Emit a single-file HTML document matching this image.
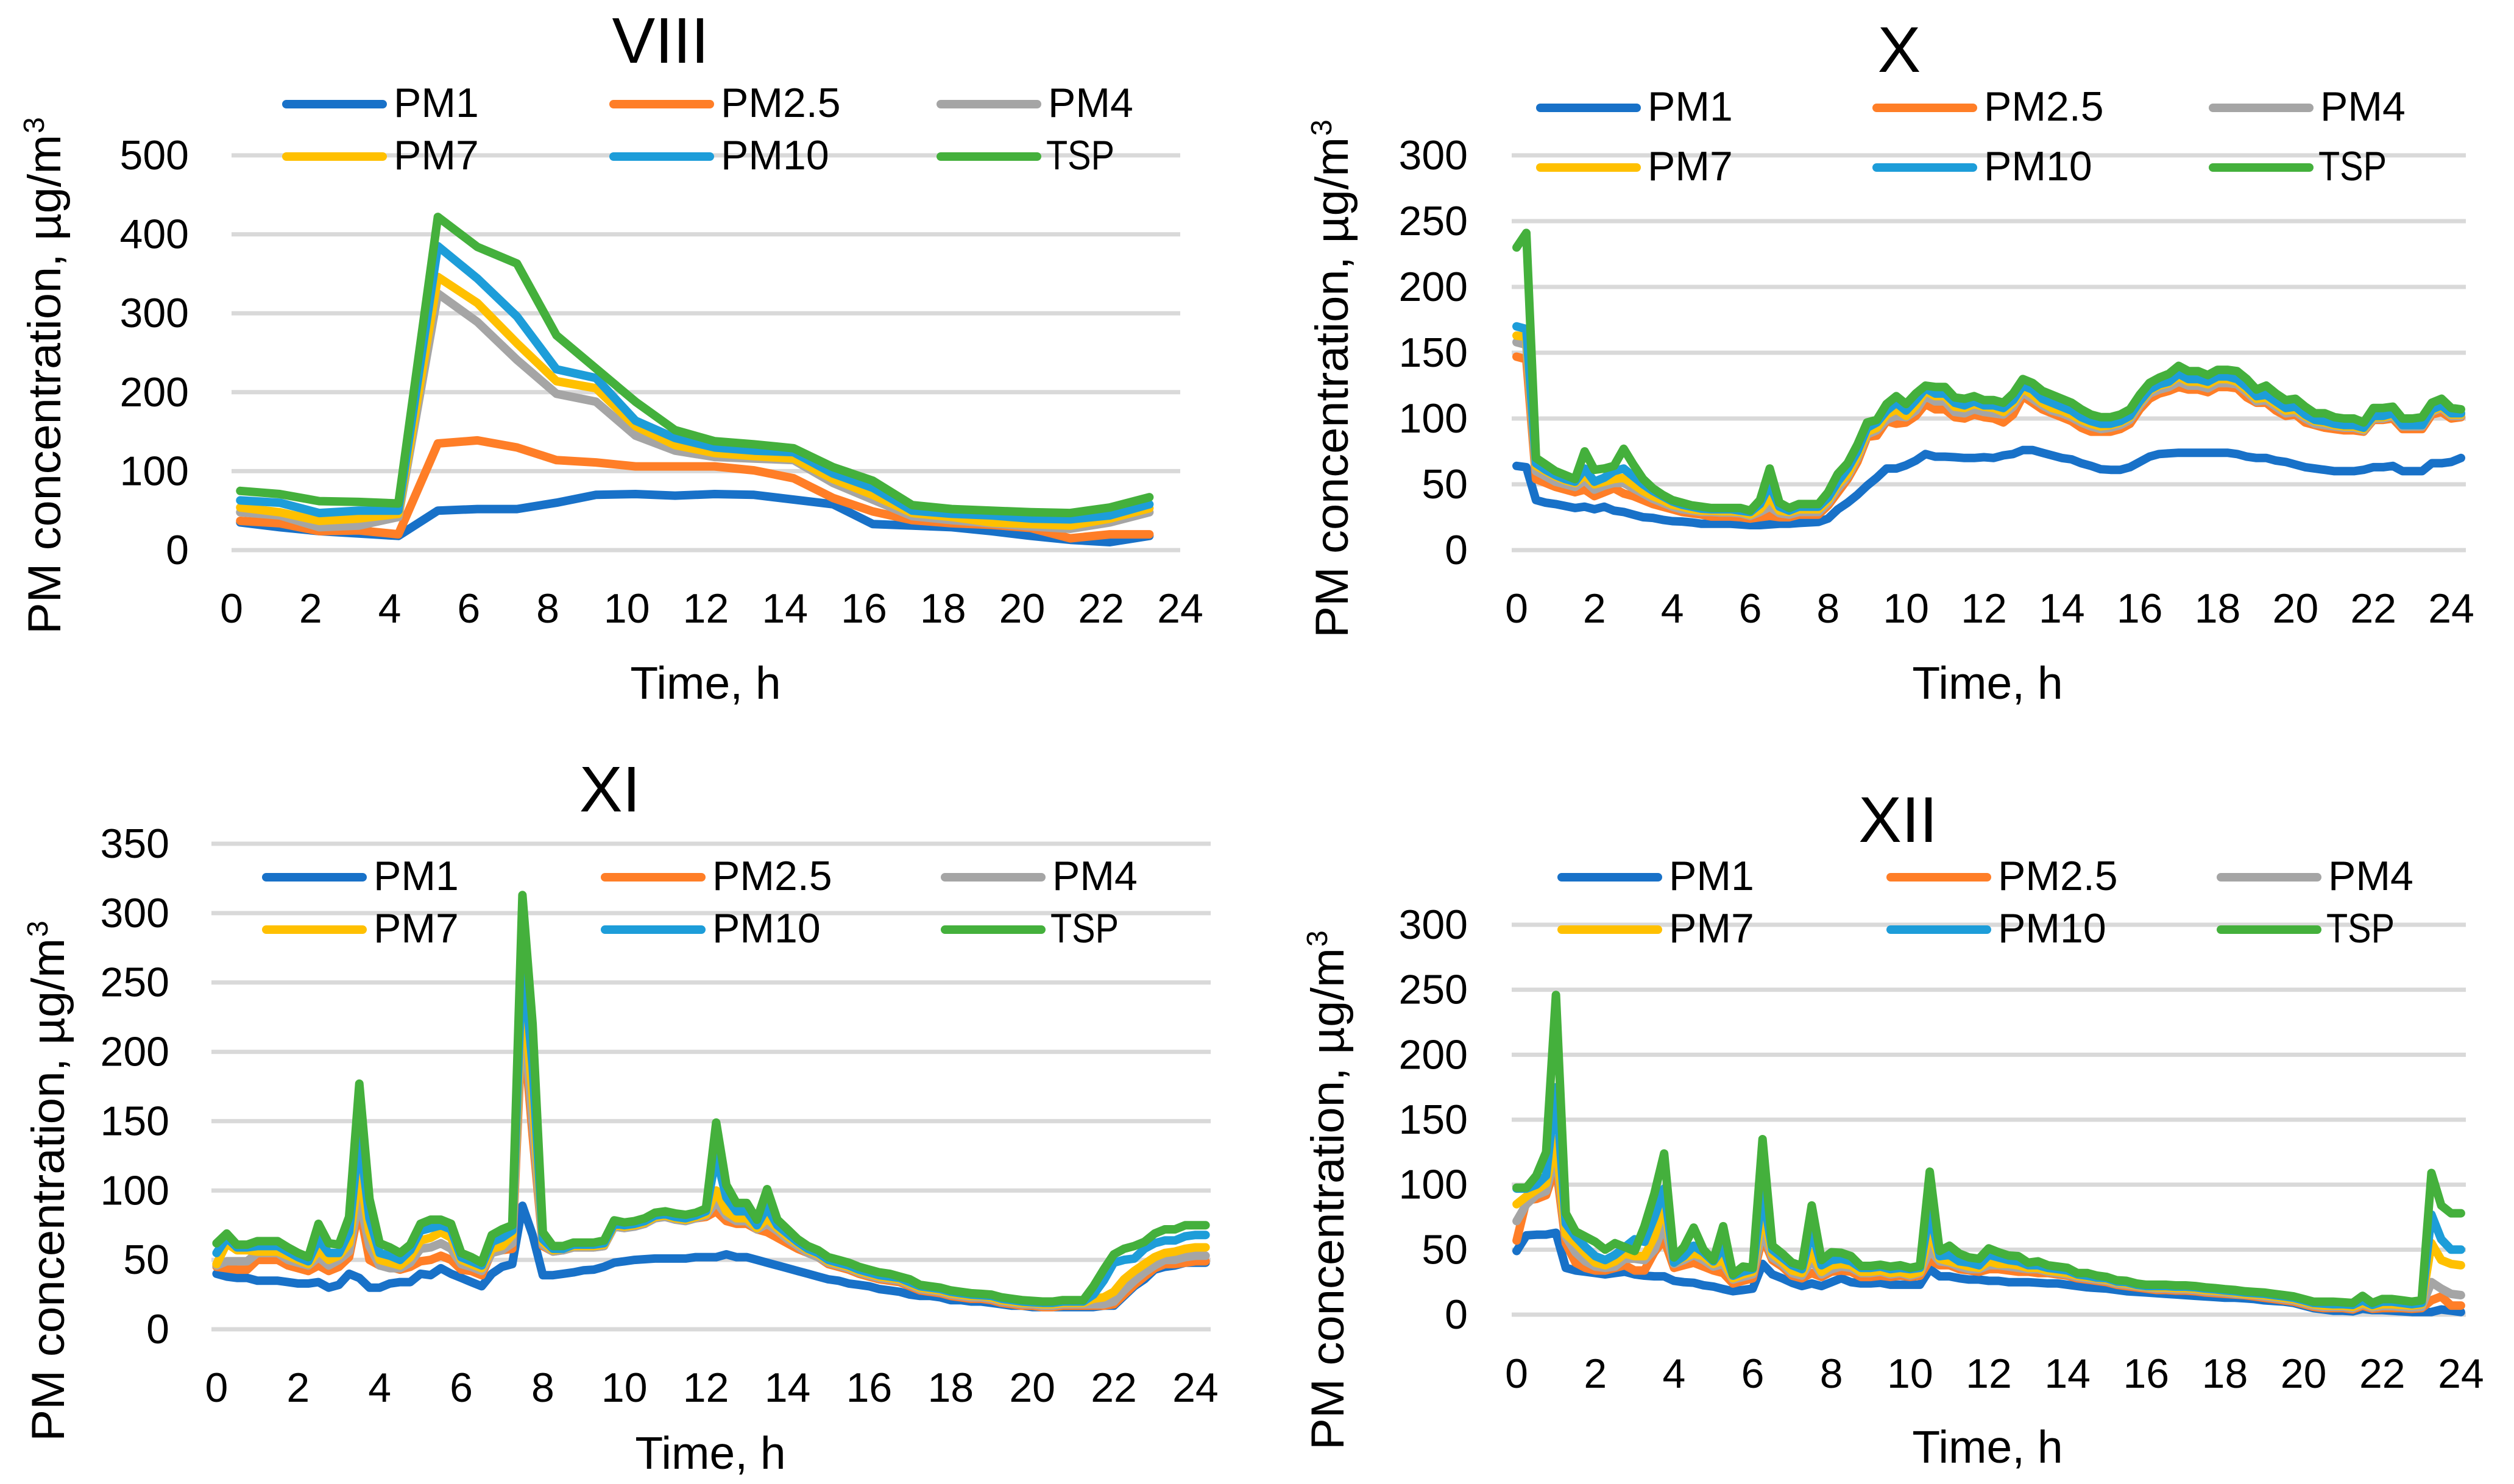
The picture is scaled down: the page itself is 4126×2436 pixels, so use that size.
<!DOCTYPE html>
<html lang="en">
<head>
<meta charset="utf-8">
<title>PM concentration by time of day</title>
<style>
html,body{margin:0;padding:0;background:#fff;}
svg{display:block;}
text{font-family:"Liberation Sans",sans-serif;fill:#000;}
</style>
</head>
<body>
<svg id="root" xmlns="http://www.w3.org/2000/svg" width="4126" height="2436" viewBox="0 0 4126 2436"></svg>
<script>
const seriesNames=['PM1','PM2.5','PM4','PM7','PM10','TSP'];
const seriesColors=['#1871C8','#FF7E27','#A5A5A5','#FFC000','#1D9DD9','#44B03C'];
const hourTicks=[0,2,4,6,8,10,12,14,16,18,20,22,24];
const viiiTicks=[0,100,200,300,400,500];
const xTicks=[0,50,100,150,200,250,300];
const xiTicks=[0,50,100,150,200,250,300,350];
const xiiTicks=[0,50,100,150,200,250,300];

const viiiPM1=[35,29,24,21,18,50,52,52,60,70,71,69,71,70,64,58,33,31,29,24,18,13,10,18];
const viiiPM25=[37,34,24,25,20,135,139,130,114,111,106,106,106,101,91,66,49,38,34,32,28,15,20,20];
const viiiPM4=[48,44,29,31,42,325,289,241,198,188,145,126,118,116,114,85,64,43,38,34,30,27,35,48];
const viiiPM7=[54,48,37,40,46,346,313,262,214,205,157,133,123,119,116,90,70,47,42,35,33,31,40,53];
const viiiPM10=[63,60,47,50,50,385,344,296,229,218,164,142,130,126,124,97,79,50,46,44,40,39,44,58];
const viiiTSP=[75,71,62,61,59,422,384,363,272,230,188,152,138,134,129,105,88,57,52,50,48,47,54,67];

const xPM1=[64,63,38,36,35,33.5,32,33,31,33,30,29,27,25,24.5,23,22,21.7,21,20,20,20,20,19.5,19,19,19.5,20,20,20.6,21,21.4,24,31,36,42,49,55,62,62,64.5,68,73,71,71,70.6,70,70,70.6,70,72,73,76,76,74,72,70,69,66,64,61.5,61,61,63,67,71,73,73.5,74,74,74,74,74,74,73,71,70,70,68,67,65,63,62,61,60,60,60,61,63,63,64,60,60,60,66,66,67,70];
const xPM25=[147,145,54,51,48,46,44,46,41,44,47,43,41,38,35,33,31,29,28,27,25.5,25.5,25.5,25,24,25,26,25,25,27,27,27,34,44,54,67,86,87,98,96,97,102,111,107,107,101,100,103,101,100,97,103,117,112,107,104,101,98,93,90,90,90,92,96,107,115,119,121,124,122,122,120,124,124,123,116,112,112,106,102,103,97,95,93,92,91,91,90,99,99,100,92,92,92,103,105,100,101];
const xPM4=[158,156,60,56,52,50,48,53,46,49,51,51,47,43,39,36,33,31,30,29,29,28.5,28.5,28,26,29,33,28,27,29,29,29,36,47,56,70,88,91,99,102,101,106,117,113,113,105,104,107,105,104,103,109,120,115,110,106,104,101,97,94,92,93,95,99,110,119,122,124,128,125,125,123,127,127,126,120,113,114,109,104,105,100,96,95,94,93,93,91,100,100,102,94,94,94,105,108,102,102];
const xPM7=[163,162,64,60,56,53,51,57,50,52,54,55,50,45,41,38,34.5,33,31,30,30,29.5,29.5,29,27,31,40,30,29,31,31,31,38,50,58,72,90,93,103,107,102,110,121,117,117,109,108,111,109,108,105,112,123,118,112,108,106,103,99,96,94,95,97,101,112,121,125,127,132,128,128,126,130,130,128,122,115,116,111,106,107,102,98,97,95,94,94,92,101,101,103,95,95,95,106,109,103,103];
const xPM10=[170,168,66,61,57,54,52,62,52,55,60,62,56,50,45,41,37,34.5,33,31.5,31,31,31,30,29,35,50,33,30,33,33,33,40,52,62,75,93,97,106,112,106,114,123,119,119,112,110,113,110,110,108,114,125,122,115,112,109,106,101,98,96,96,98,102,113,122,126,128,134,130,130,128,132,132,130,124,117,118,113,108,109,103,99,98,96,95,95,93,102,102,104,95,95,95,107,110,104,104];
const xTSP=[230,241,70,65,60,57,54,75,61,62,64,77,65,54,47,42,38,36,34,33,32,32,32,32,30,38,62,36,32,35,35,35,44,58,66,80,97,99,111,117,111,119,125,124,124,116,115,117,114,114,112,119,130,127,121,118,115,112,107,103,101,101,103,107,118,127,131,134,140,136,136,133,137,137,136,130,122,125,119,114,115,109,104,104,101,100,100,97,108,108,109,100,100,101,112,115,108,107];

const xiPM1=[40,38,37,37,35,35,35,34,33,33,34,30,32,40,37,30,30,33,34,34,40,39,44,40,37,34,31,40,45,47,89,68,39,39,40,41,42.5,43,45,48,49,50,50.5,51,51,51,51,52,52,52,54,52,52,50,48,46,44,42,40,38,36,35,33,32,31,29,28,27,25,24,24,23,21,21,20,20,19,18,17,17,16,16,16,16,16,16,16,17,17,24,31,36,43,45,46,48,48,48];
const xiPM25=[45,44,43,43,50,50,50,46,44,42,46,42,45,52,88,50,46,45,43,45,49,50,53,50,43,42,39,56,57,58,225,140,60,56,57,59,59,59,60,74,73,75,76,81,81,80,79,80,81,85,78,76,76,72,70,66,62,58,55,52,47,45,43,40,38,36,35,34,31,28,27,26,24,23,22,22,21,19,18,17,17,16,16,17,17,17,17,17,18,25,32,38,44,47,47,48,49,49];
const xiPM4=[46,49,49,49,55,55,55,50,48,46,52,46,50,56,95,60,46,44,44,48,58,59,62,58,47,45,42,55,57,62,235,150,61,56,57,59,59,59,60,74,73,74,76,80,81,79,78,80,82,92,82,78,78,72,76,71,65,60,55,52,48,46,44,41,39,37,36,35,32,29,28,27,25,24,23,23,22,20,19,18,18,17,17,18,18,18,18,18,20,28,35,41,46,50,50,52,53,53];
const xiPM7=[47,62,57,57,56,56,56,53,50,47,57,50,53,62,115,70,50,48,46,52,64,66,70,66,50,47,44,58,60,68,250,170,63,57,58,60,60,60,61,75,74,75,77,81,82,80,79,81,83,100,85,80,80,73,80,73,67,62,57,54,49,47,45,42,40,38,37,36,33,30,29,28,26,25,24,24,23,21,20,19,19,18,18,19,19,19,22,23,27,36,42,47,52,55,56,58,59,59];
const xiPM10=[55,66,59,59,60,60,60,56,52,49,65,55,55,70,140,80,55,53,50,57,71,73,75,72,52,49,46,63,66,71,270,190,65,58,58,61,61,61,62,76,75,76,78,82,83,81,80,82,85,125,95,85,85,75,88,75,69,63,58,55,50,48,46,43,41,39,38,37,34,31,30,29,27,26,25,24.5,24,22,21,20,19.5,19,19,20,20,20,25,35,48,50,51,58,62,64,64,67,68,68];
const xiTSP=[62,69,61,61,63.5,63.5,63.5,59,55,52,76,62,61,81,177,94,62,59,55,61,76,79,79,76,55,52,48,68,72,75,313,220,70,60,60,62.5,62.5,62.5,64,78.5,77,78,80,84,85,83.5,82.5,84,87,149,104,91,91,79,101,79,72,65,60,57,52,50,48,45,43,41,40,38,36,32,31,30,28,27,26,25.5,25,23,22,21,20.5,20,20,21,21,21,31,43,54,58,60,63,69,72,72,75,75,75];

const xiiPM1=[49,61,61.5,61.6,63,36,34,33,32,31,32,33,31,30,29.5,29.5,26,25,24.5,22.6,21.6,19.7,18,19,20,39,31,28,24.5,22,24,22,25,28,25,24,24,24.5,23,23,23,23,35,29.5,29.5,28,27,27,26,26,25,25,25,24.5,24,24,23,22,21,20.5,20,19,18,17.5,17,16.5,16,15.5,15,14.5,14,13.5,13,13,12.5,12,11,10.5,10,9,7,5,4,3,3,2.5,4.5,3.5,3.5,3,2.5,2,2,2,4,3,2];
const xiiPM25=[57,88,89,92,115,55,40,36,34,34,36,38,34,34,48,58,36,38,40,37,34,32,24,26,28,60,42,37,30,28,32,29,33,34,33,29,29,30,29,30,29,30,42,38,38,35,34,33,35,35,34,33,33,32,32,31,30,28,27,26,25,23,22,21,20,19,19,18.5,18.5,18,17,16.5,16,15.5,15,14,13,12,11,10,8,6,5,5,5,4,7,4.5,5,5,5,4.5,5,11,14,7,7];
const xiiPM4=[72,85,92,95,125,60,48,41,37,36,37,43,43,42,50,70,39,42,46,42,37,39,27,29,31,65,44,39,32,30,42,31,35,37,36,32,32,33,31,32,30,32,50,41,40,37,35,35,38,38,37,36,35,35,33,32,31,29,28,27,26,24,23,22,21,20,20,19.5,19.5,19,18,17.5,17,16,15.5,15,14,13,12,11,9,7,6,6,6,5,8,5.5,6.5,6.5,6,5.5,6,25,20,16,15];
const xiiPM7=[85,91,96,101,135,62,55,47,40,38,41,47,45,45,60,85,40,44,47,45,39,42,28,31,33,80,47,41,34,32,48,33,38,39,38,33,33,34,32,33,31,33,65,43,41,39,37,36,41,39,39,38,36,36,34,33,32,30,29,28,27,25,24,22.5,21.5,21,21,20.5,20.5,20,19,18.5,18,17,16,15.5,15,14,13,12,10,8,7,7,7,6,9,6.5,8,8,7.5,7,8,55,42,39,38];
const xiiPM10=[97,97,100,107,175,70,60,52,45,42,46,52,58,56,75,97,40,45,53,48,41,52,30,33,35,95,50,44,38,35,65,38,42,43,41,36,36,37,35,36,35,36,80,45,46,41,40,38,46,44,42,41,38,38,36,35,34,31,30,28.5,28,25.5,25,23,22,22,22,21.5,21.5,21,20,19.5,18.6,18,17,16.5,16,15,14,13,11,9,8.5,8,8,7.5,11,7.5,10,10,9,8,9,77,58,50,50];
const xiiTSP=[97.7,97.7,107,125,246,78,64,60,56,50,55,52,49,68,93,124,44,52,67,50,42,68,31,37,36,135,53,47,40,37.5,84,42,48,47.6,45,37.5,37.5,38.4,37,38,36,37.5,110,49,53,47,44,43,51,48,45.5,45,40,41,38,37,36,32,32,30,29,26.5,26,24,23,23,23,22.5,22.5,22,21,20.4,19.6,19,18,17.5,17,16,15,14,12,10,10,10,9.5,9,14.5,9,12,12,11,10,11,109,84,78,78];

const SVGNS='http://www.w3.org/2000/svg';
const root=document.getElementById('root');

function makeLabel(parent,name,str,x,y,size,anchor,rotate,length){
  const t=document.createElementNS(SVGNS,'text');
  
  
  t.setAttribute('font-size',size);
  t.setAttribute('text-anchor',anchor);
  if(rotate){
    t.setAttribute('transform','translate('+x+','+y+') rotate(-90)');
  }else{
    t.setAttribute('x',x);
    t.setAttribute('y',y);
  }
  if(length){
    t.setAttribute('textLength',length);
    t.setAttribute('lengthAdjust','spacingAndGlyphs');
  }
  t.textContent=str;
  parent.appendChild(t);
  return t;
}

function drawPanel(p){
  const g=document.createElementNS(SVGNS,'g');
  
  
  root.appendChild(g);

  const maxVal=p.yTicks[p.yTicks.length-1];
  const yAxis=function(v){return p.y0+(p.yMax-p.y0)*v/maxVal;};
  const xAxis=function(hour){
    if(p.categories){
      return p.left+(hour*4+0.5)*(p.right-p.left)/p.categories;
    }
    return p.left+hour*(p.right-p.left)/24;
  };

  p.yTicks.forEach(function(v){
    const line=document.createElementNS(SVGNS,'line');
    
    
    line.setAttribute('x1',p.left);
    line.setAttribute('x2',p.right);
    line.setAttribute('y1',yAxis(v));
    line.setAttribute('y2',yAxis(v));
    line.setAttribute('stroke','#D9D9D9');
    line.setAttribute('stroke-width','7');
    g.appendChild(line);
    makeLabel(g,'y-tick-label',String(v),p.yLabelRight,yAxis(v)+23,68,'end');
  });

  hourTicks.forEach(function(h){
    makeLabel(g,'x-tick-label',String(h),xAxis(h),p.xLabelY,68,'middle');
  });

  p.values.forEach(function(vals,s){
    const path=document.createElementNS(SVGNS,'polyline');
    
    
    const pts=vals.map(function(v,i){
      const hour=p.categories?i/4:i+0.22;
      return xAxis(hour).toFixed(1)+','+yAxis(v).toFixed(1);
    });
    path.setAttribute('points',pts.join(' '));
    path.setAttribute('fill','none');
    path.setAttribute('stroke',seriesColors[s]);
    path.setAttribute('stroke-width','14');
    path.setAttribute('stroke-linejoin','round');
    path.setAttribute('stroke-linecap','round');
    g.appendChild(path);
  });

  seriesNames.forEach(function(n,s){
    const col=s%3;
    const row=Math.floor(s/3);
    const sw=document.createElementNS(SVGNS,'line');
    
    
    sw.setAttribute('x1',p.legendX[col]+7);
    sw.setAttribute('x2',p.legendX[col]+165);
    sw.setAttribute('y1',p.legendY[row]);
    sw.setAttribute('y2',p.legendY[row]);
    sw.setAttribute('stroke',seriesColors[s]);
    sw.setAttribute('stroke-width','14');
    sw.setAttribute('stroke-linecap','round');
    g.appendChild(sw);
    if(n==='TSP'){
      makeLabel(g,'legend-label',n,p.legendX[col]+180,p.legendY[row]+21,68,'start',false,112);
    }else{
      makeLabel(g,'legend-label',n,p.legendX[col]+183,p.legendY[row]+21,68,'start');
    }
  });

  makeLabel(g,'chart-title',p.title,p.titleX,p.titleY,106,'middle');
  makeLabel(g,'x-axis-title','Time, h',p.xTitleX,p.xTitleY,75,'middle');
  makeLabel(g,'y-axis-title','PM concentration, µg/m',p.yTitleX,p.yTitleBottom,76,'start',true,p.yTitleBottom-p.yTitleTop);
  makeLabel(g,'y-axis-title-exponent','3',p.yTitleX-27,p.yTitleTop-2,48,'start',true);
}

const panels=[
  {name:'chart-viii',title:'VIII',values:[viiiPM1,viiiPM25,viiiPM4,viiiPM7,viiiPM10,viiiTSP],yTicks:viiiTicks,categories:0,left:380,right:1937,y0:903,yMax:255,yLabelRight:310,xLabelY:1022,legendX:[463,1000,1537],legendY:[171,257],titleX:1084,titleY:103,xTitleX:1158,xTitleY:1147,yTitleX:99,yTitleBottom:1041,yTitleTop:221},
  {name:'chart-x',title:'X',values:[xPM1,xPM25,xPM4,xPM7,xPM10,xTSP],yTicks:xTicks,categories:98,left:2481,right:4047,y0:903,yMax:255,yLabelRight:2409,xLabelY:1022,legendX:[2521,3073,3625],legendY:[177,275],titleX:3117,titleY:118,xTitleX:3262,xTitleY:1147,yTitleX:2212,yTitleBottom:1047,yTitleTop:225},
  {name:'chart-xi',title:'XI',values:[xiPM1,xiPM25,xiPM4,xiPM7,xiPM10,xiTSP],yTicks:xiTicks,categories:98,left:347,right:1987,y0:2182,yMax:1385,yLabelRight:278,xLabelY:2301,legendX:[430,986,1544],legendY:[1440,1526],titleX:1001,titleY:1332,xTitleX:1166,xTitleY:2411,yTitleX:105,yTitleBottom:2366,yTitleTop:1540},
  {name:'chart-xii',title:'XII',values:[xiiPM1,xiiPM25,xiiPM4,xiiPM7,xiiPM10,xiiTSP],yTicks:xiiTicks,categories:97,left:2481,right:4047,y0:2158,yMax:1518,yLabelRight:2409,xLabelY:2278,legendX:[2556,3096,3638],legendY:[1440,1526],titleX:3115,titleY:1382,xTitleX:3262,xTitleY:2401,yTitleX:2205,yTitleBottom:2380,yTitleTop:1556}
];
panels.forEach(drawPanel);
</script>
</body>
</html>
